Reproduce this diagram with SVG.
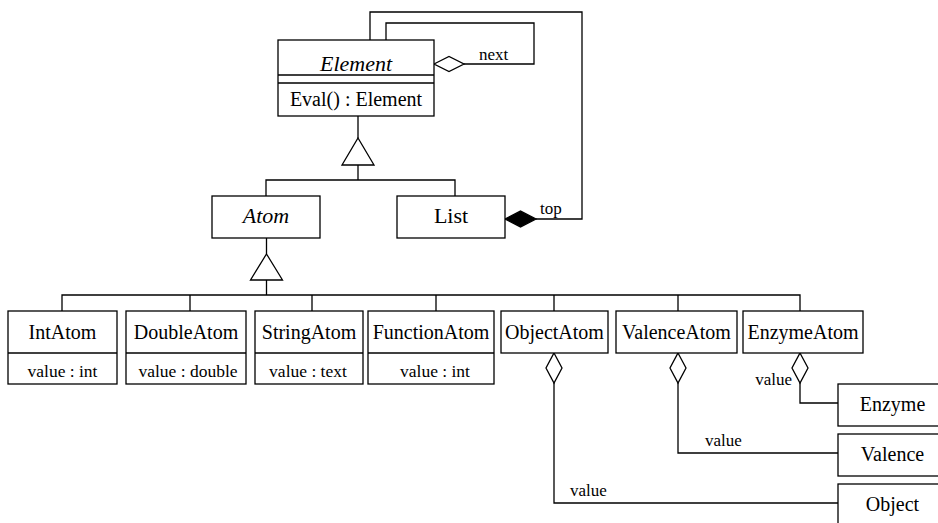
<svg xmlns="http://www.w3.org/2000/svg" width="938" height="523" viewBox="0 0 938 523">
<style>
.box{fill:#fff;stroke:#000;stroke-width:1.3}
.ln{fill:none;stroke:#000;stroke-width:1.3}
.tri{fill:#fff;stroke:#000;stroke-width:1.3}
.od{fill:#fff;stroke:#000;stroke-width:1.3}
.fd{fill:#000;stroke:#000;stroke-width:1.3}
text{font-family:"Liberation Serif","Times New Roman",serif;fill:#000}
.cn{font-size:20px;text-anchor:middle}
.it{font-size:22px;font-style:italic;text-anchor:middle}
.at{font-size:17.5px;text-anchor:middle}
.lb{font-size:17px}
</style>
<rect width="938" height="523" fill="#fff"/>
<g id="connectors">
<!-- generalization Element -->
<path class="ln" d="M358,116 V138 M358,165 V180 M266,196 V180 H455 V196"/>
<polygon class="tri" points="358,138 374,165 342,165"/>
<!-- generalization Atom -->
<path class="ln" d="M266.5,238 V254 M266.5,280 V295 M62,311 V295 H800 V311 M190,295 V311 M312,295 V311 M436,295 V311 M554,295 V311 M678,295 V311"/>
<polygon class="tri" points="266.5,254 282.5,280 250.5,280"/>
<!-- next self aggregation -->
<path class="ln" d="M464,64 H534 V23 H386 V40"/>
<polygon class="od" points="434,64 449,56.5 464,64 449,71.5"/>
<text class="lb" x="479" y="60">next</text>
<!-- top composition -->
<path class="ln" d="M370,40 V12 H582 V219 H536"/>
<polygon class="fd" points="505,219 520.5,211 536,219 520.5,227"/>
<text class="lb" x="540" y="214">top</text>
<!-- ObjectAtom -> Object -->
<path class="ln" d="M554,383 V503 H838"/>
<polygon class="od" points="554,353 562,368 554,383 546,368"/>
<text class="lb" x="570" y="496">value</text>
<!-- ValenceAtom -> Valence -->
<path class="ln" d="M678,383 V453 H838"/>
<polygon class="od" points="678,353 686,368 678,383 670,368"/>
<text class="lb" x="705" y="446">value</text>
<!-- EnzymeAtom -> Enzyme -->
<path class="ln" d="M800,383 V403 H838"/>
<polygon class="od" points="800,353 808,368 800,383 792,368"/>
<text class="lb" x="792" y="385" text-anchor="end">value</text>
</g>
<g id="Element">
<rect class="box" x="278" y="40" width="156" height="76"/>
<path class="ln" d="M278,75 H434 M278,83 H434"/>
<text class="it" x="356" y="71">Element</text>
<text class="cn" x="356" y="106">Eval() : Element</text>
</g>
<g id="Atom">
<rect class="box" x="212" y="196" width="108" height="42"/>
<text class="it" x="266" y="223">Atom</text>
</g>
<g id="List">
<rect class="box" x="397" y="196" width="108" height="42"/>
<text class="cn" x="451" y="223" style="font-size:22px">List</text>
</g>
<g id="IntAtom">
<rect class="box" x="8" y="311" width="109" height="73"/>
<path class="ln" d="M8,353 H117"/>
<text class="cn" x="62.5" y="339">IntAtom</text>
<text class="at" x="62.5" y="377">value : int</text>
</g>
<g id="DoubleAtom">
<rect class="box" x="126" y="311" width="120" height="73"/>
<path class="ln" d="M126,353 H246"/>
<text class="cn" x="186" y="339">DoubleAtom</text>
<text class="at" x="188" y="377">value : double</text>
</g>
<g id="StringAtom">
<rect class="box" x="255" y="311" width="108" height="73"/>
<path class="ln" d="M255,353 H363"/>
<text class="cn" x="309" y="339">StringAtom</text>
<text class="at" x="308" y="377">value : text</text>
</g>
<g id="FunctionAtom">
<rect class="box" x="368" y="311" width="126" height="73"/>
<path class="ln" d="M368,353 H494"/>
<text class="cn" x="431" y="339">FunctionAtom</text>
<text class="at" x="435" y="377">value : int</text>
</g>
<g id="ObjectAtom">
<rect class="box" x="501" y="311" width="107" height="42"/>
<text class="cn" x="554.5" y="339">ObjectAtom</text>
</g>
<g id="ValenceAtom">
<rect class="box" x="616" y="311" width="121" height="42"/>
<text class="cn" x="676.5" y="339">ValenceAtom</text>
</g>
<g id="EnzymeAtom">
<rect class="box" x="743" y="311" width="120" height="42"/>
<text class="cn" x="803" y="339">EnzymeAtom</text>
</g>
<g id="Enzyme">
<rect class="box" x="838" y="384" width="110" height="42"/>
<text class="cn" x="892.5" y="411">Enzyme</text>
</g>
<g id="Valence">
<rect class="box" x="838" y="434" width="110" height="42"/>
<text class="cn" x="892.5" y="461">Valence</text>
</g>
<g id="Object">
<rect class="box" x="838" y="484" width="110" height="50"/>
<text class="cn" x="892.5" y="511">Object</text>
</g>
</svg>
